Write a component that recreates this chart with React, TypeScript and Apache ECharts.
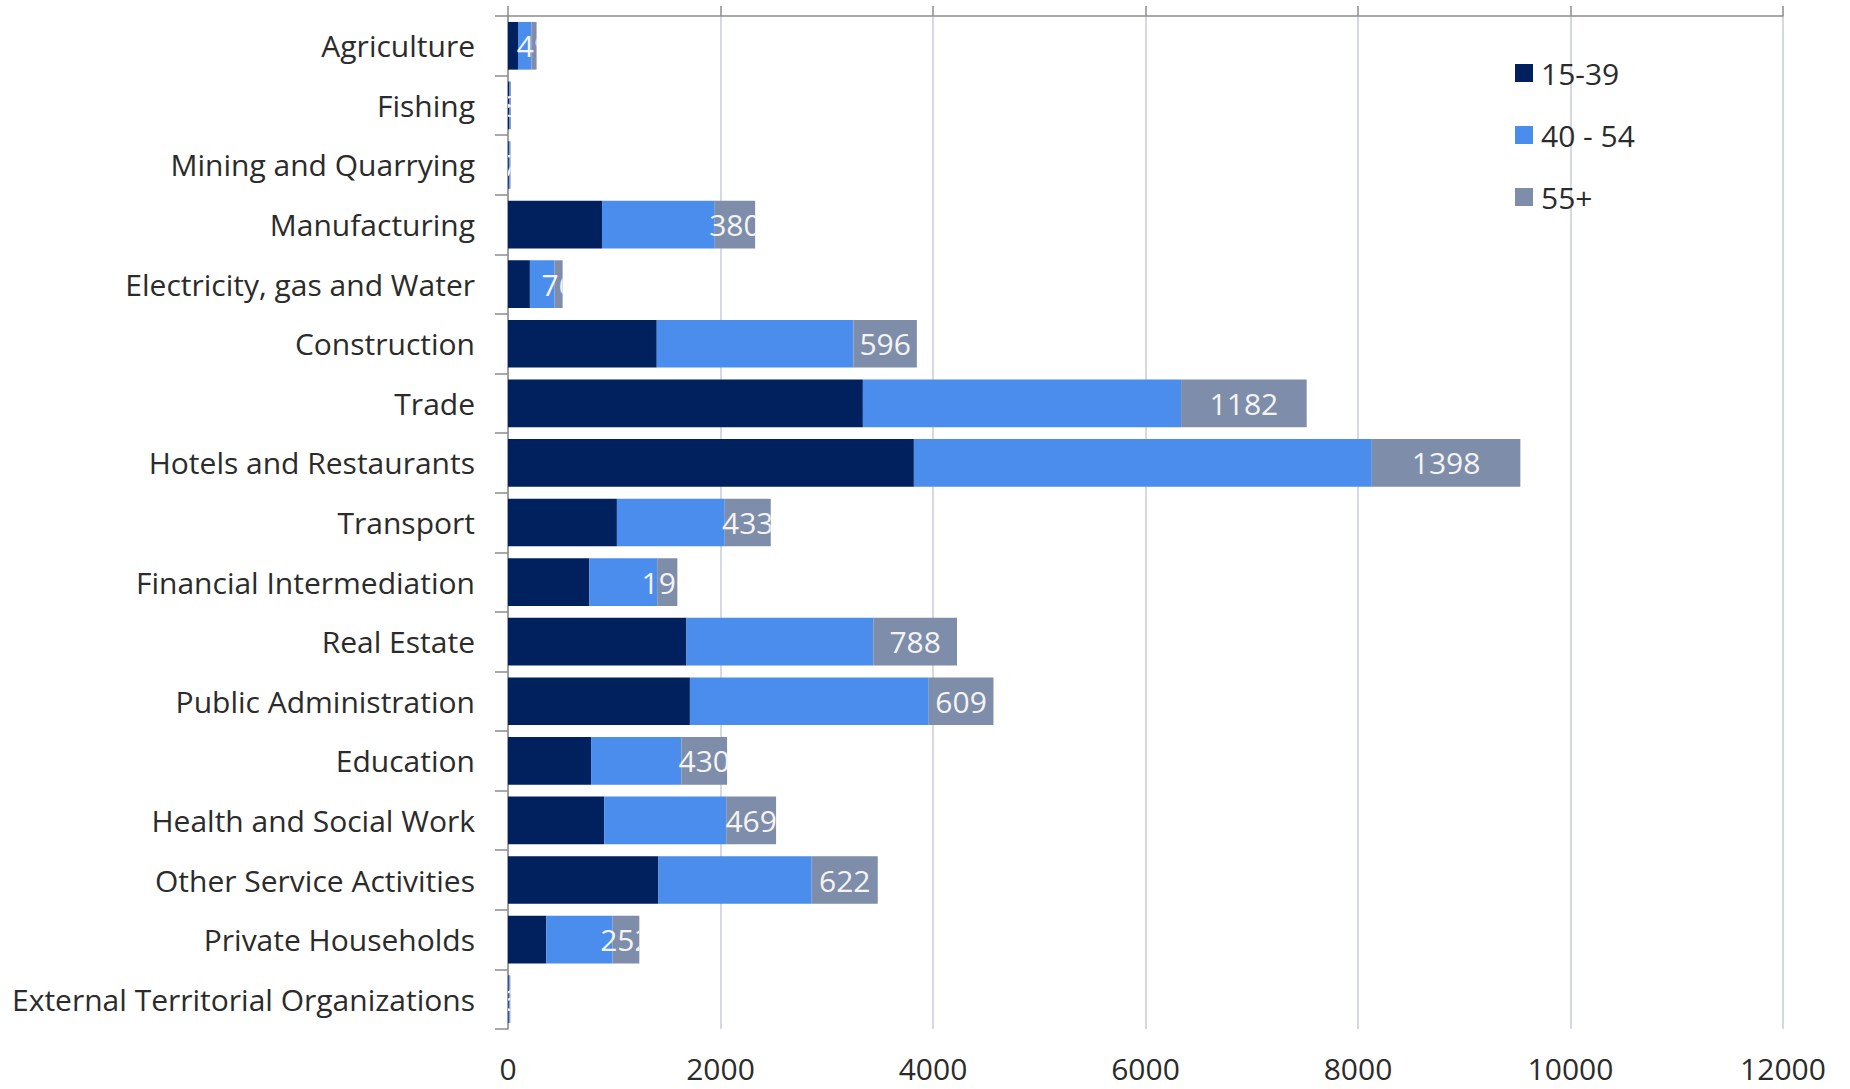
import React, { useEffect, useRef } from "react";
import * as echarts from "echarts";

const categories = [
  "Agriculture",
  "Fishing",
  "Mining and Quarrying",
  "Manufacturing",
  "Electricity, gas and Water",
  "Construction",
  "Trade",
  "Hotels and Restaurants",
  "Transport",
  "Financial Intermediation",
  "Real Estate",
  "Public Administration",
  "Education",
  "Health and Social Work",
  "Other Service Activities",
  "Private Households",
  "External Territorial Organizations",
];

const seriesNames = ["15-39", "40 - 54", "55+"];

const g15 = [94, 10, 8, 885, 206, 1400, 3340, 3820, 1025, 764, 1680, 1712, 782, 905, 1416, 361, 7];
const g40 = [126, 9, 9, 1061, 232, 1852, 2995, 4310, 1015, 640, 1758, 2248, 850, 1149, 1442, 623, 9];
const g55 = [49, 8, 7, 380, 76, 596, 1182, 1398, 433, 190, 788, 609, 430, 469, 622, 252, 6];

const xTicks = { min: 0, max: 12000, interval: 2000 };

const colors = ["#00205E", "#4A8DED", "#7E8DA9"];
const FONT = "Open Sans";
const TEXT = "#2b2b2b";

export default function App() {
  const ref = useRef<HTMLDivElement>(null);

  useEffect(() => {
    if (!ref.current) return;
    const chart = echarts.init(ref.current, undefined, { renderer: "svg" });

    const labelData = g55.map((v, i) => [g15[i] + g40[i], g15[i] + g40[i] + v, i]);

    const option: any = {
      animation: false,
      backgroundColor: "#ffffff",
      color: colors,
      grid: { left: 508, right: 67, top: 16, bottom: 60, containLabel: false },
      legend: {
        data: seriesNames,
        orient: "vertical",
        left: 1510,
        top: 53,
        itemWidth: 18,
        itemHeight: 18,
        itemGap: 32,
        icon: "rect",
        textStyle: { fontFamily: FONT, fontSize: 30, color: TEXT, lineHeight: 30, padding: [0, 0, 0, 3] },
      },
      xAxis: [
        {
          type: "value",
          position: "top",
          min: xTicks.min,
          max: xTicks.max,
          interval: xTicks.interval,
          axisLine: { show: true, lineStyle: { color: "#8c8c8c", width: 1.5 } },
          axisTick: { show: true, length: 10, lineStyle: { color: "#8c8c8c", width: 1.5 } },
          axisLabel: { show: false },
          splitLine: { show: true, lineStyle: { color: "#c9cdd9", width: 1.5 } },
        },
        {
          type: "value",
          position: "bottom",
          min: xTicks.min,
          max: xTicks.max,
          interval: xTicks.interval,
          axisLine: { show: false },
          axisTick: { show: false },
          splitLine: { show: false },
          axisLabel: {
            show: true,
            fontFamily: FONT,
            fontSize: 30,
            lineHeight: 30,
            color: TEXT,
            margin: 24,
            formatter: (v: number) => String(v),
          },
        },
      ],
      yAxis: {
        type: "category",
        inverse: true,
        data: categories,
        axisLine: { show: true, lineStyle: { color: "#8c8c8c", width: 1.5 } },
        axisTick: { show: true, length: 13, lineStyle: { color: "#8c8c8c", width: 1.5 } },
        axisLabel: { fontFamily: FONT, fontSize: 30, color: TEXT, margin: 33 },
        splitLine: { show: false },
      },
      series: [
        {
          name: seriesNames[0],
          type: "bar",
          stack: "total",
          xAxisIndex: 0,
          barCategoryGap: "20%",
          data: g15,
          itemStyle: { color: colors[0] },
        },
        {
          name: seriesNames[1],
          type: "bar",
          stack: "total",
          xAxisIndex: 0,
          barCategoryGap: "20%",
          data: g40,
          itemStyle: { color: colors[1] },
        },
        {
          name: seriesNames[2],
          type: "bar",
          stack: "total",
          xAxisIndex: 0,
          barCategoryGap: "20%",
          data: g55,
          itemStyle: { color: colors[2] },
        },
        {
          name: "labels",
          type: "custom",
          xAxisIndex: 0,
          z: 5,
          encode: { x: [0, 1], y: 2 },
          data: labelData,
          renderItem: (params: any, api: any) => {
            const idx = params.dataIndex;
            const s = api.coord([api.value(0), idx]);
            const e = api.coord([api.value(1), idx]);
            const band = api.size([0, 1])[1];
            const left = params.coordSys.x;
            return {
              type: "group",
              clipPath: {
                type: "rect",
                shape: { x: left, y: s[1] - band / 2, width: Math.max(0, e[0] - left), height: band },
              },
              children: [
                {
                  type: "text",
                  x: (s[0] + e[0]) / 2,
                  y: s[1],
                  style: {
                    text: String(g55[idx]),
                    fill: "#f4f4f4",
                    fontFamily: FONT,
                    fontSize: 30,
                    align: "center",
                    verticalAlign: "middle",
                  },
                },
              ],
            };
          },
        },
      ],
    };

    chart.setOption(option);
    return () => chart.dispose();
  }, []);

  return (
    <div
      ref={ref}
      style={{ position: "absolute", left: 0, top: 0, width: 1850, height: 1089 }}
    />
  );
}
